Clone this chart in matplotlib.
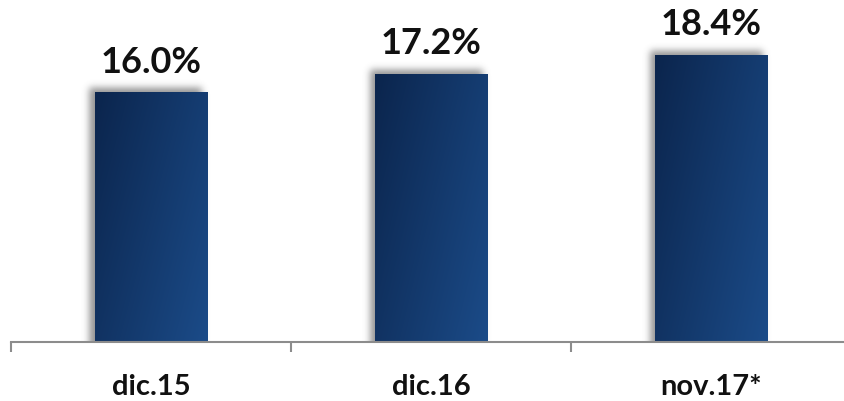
import numpy as np
import matplotlib
matplotlib.use("Agg")
import matplotlib.pyplot as plt
from math import erf

categorias = ["dic.15", "dic.16", "nov.17*"]
valores = [16.0, 17.2, 18.4]
etiquetas = ["16.0%", "17.2%", "18.4%"]

plt.rcParams['font.family'] = ['Lato', 'DejaVu Sans']

fig = plt.figure(figsize=(8.44, 4.01), dpi=100)
ax = fig.add_axes([11/844, 59/401, 840/844, 342/401])

px_x = 1/280.0     # data units per pixel
px_y = 1/15.58
ancho = 113/280.0

verf = np.vectorize(erf)
c0 = np.array([0x0b, 0x25, 0x4d]) / 255.0
c1 = np.array([0x1b, 0x4b, 0x88]) / 255.0

for i, v in enumerate(valores):
    x0 = i - ancho/2
    x1 = i + ancho/2
    # sombra difusa
    m = 20
    nx, ny = 200, 200
    xs = np.linspace(x0 - m*px_x, x1 + m*px_x, nx)
    ys = np.linspace(0, v + m*px_y, ny)
    X, Y = np.meshgrid(xs, ys)
    dx, dy = -5*px_x, 5*px_y
    s = 5.0
    ax_ = 0.5*(verf((X - (x0+dx))/(s*px_x)) - verf((X - (x1+dx))/(s*px_x)))
    ay_ = 0.5*(verf((Y + 10*px_y)/(s*px_y)) - verf((Y - (v+dy))/(s*px_y)))
    a = np.clip(ax_*ay_, 0, 1)*0.6
    sh = np.zeros((ny, nx, 4))
    sh[..., :3] = 0.3
    sh[..., 3] = a
    ax.imshow(sh, extent=(xs[0], xs[-1], ys[0], ys[-1]), origin='lower',
              aspect='auto', zorder=1, interpolation='bilinear')
    # barra con degradado
    gx = np.linspace(0, 1, 60)
    gy = np.linspace(0, 1, 60)
    GX, GY = np.meshgrid(gx, gy)
    t = np.clip(0.7*GX + 0.4*GY, 0, 1.1) / 1.1
    img = c0[None, None, :]*(1-t[..., None]) + c1[None, None, :]*t[..., None]
    ax.imshow(img, extent=(x0, x1, 0, v), origin='upper', aspect='auto',
              zorder=2, interpolation='bilinear')
    ax.text(i, v + 20*px_y, etiquetas[i], ha='center', va='baseline',
            fontsize=26, fontweight='bold', color='#111111', zorder=3)

ax.set_xlim(-0.5, 2.5)
ax.set_ylim(0, 342*px_y)

for s in ['top', 'right', 'left']:
    ax.spines[s].set_visible(False)
ax.spines['bottom'].set_color('#8c8c8c')
ax.spines['bottom'].set_linewidth(1.5)
ax.spines['bottom'].set_zorder(4)
ax.set_yticks([])
ax.set_xticks(range(len(categorias)))
ax.set_xticklabels(categorias, fontsize=21, fontweight='bold', color='#111111')
ax.set_xticks([-0.5, 0.5, 1.5, 2.5], minor=True)
ax.tick_params(axis='x', which='major', length=0, pad=23)
ax.tick_params(axis='x', which='minor', length=7.5, width=1.5, color='#8c8c8c', direction='out')

fig.savefig("out.png", dpi=100)
